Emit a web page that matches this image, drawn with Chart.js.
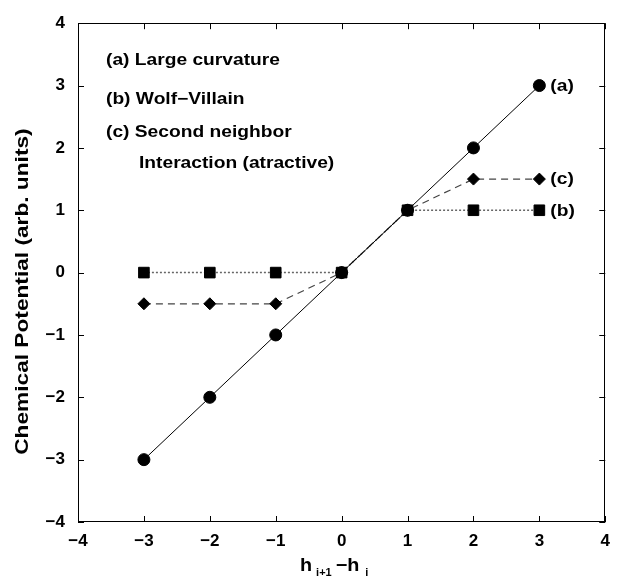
<!DOCTYPE html>
<html><head><meta charset="utf-8">
<script src="https://cdn.jsdelivr.net/npm/chart.js@4/dist/chart.umd.min.js"></script>
<style>html,body{margin:0;padding:0;background:#fff}</style>
</head><body>
<canvas id="c" width="619" height="578"></canvas>
<script>
// ---- data ----
const xValues = [-3, -2, -1, 0, 1, 2, 3];
const seriesA = [-3, -2, -1, 0, 1, 2, 3];          // (a) Large curvature
const seriesB = [0, 0, 0, 0, 1, 1, 1];             // (b) Wolf-Villain
const seriesC = [-0.5, -0.5, -0.5, 0, 1, 1.5, 1.5]; // (c) Second neighbor
const seriesTags = ['(a)', '(b)', '(c)'];
const noteLines = ['(a) Large curvature', '(b) Wolf\u2212Villain', '(c) Second neighbor', 'Interaction (atractive)'];
const axisMin = -4, axisMax = 4;
const yTitle = 'Chemical Potential (arb. units)';

const FONT = '"Liberation Sans", Arial, Helvetica, sans-serif';
const pts = arr => xValues.map((x, i) => ({x: x, y: arr[i]}));
const fmt = v => v < 0 ? '\u2212' + (-v) : String(v);

function sText(ctx, text, x, y, size, sx, align, baseline) {
  ctx.save();
  ctx.font = 'bold ' + size + 'px ' + FONT;
  ctx.textAlign = 'left';
  ctx.textBaseline = baseline || 'alphabetic';
  ctx.fillStyle = '#000';
  const w = ctx.measureText(text).width * sx;
  let x0 = x;
  if (align === 'center') x0 = x - w / 2; else if (align === 'right') x0 = x - w;
  ctx.translate(x0, y); ctx.scale(sx, 1); ctx.fillText(text, 0, 0);
  ctx.restore();
  return w;
}

const framePlugin = {
  id: 'frame',
  beforeDatasetsDraw(chart) {
    const {ctx, chartArea: a} = chart;
    ctx.save();
    ctx.strokeStyle = '#000'; ctx.lineWidth = 1;
    ctx.strokeRect(Math.round(a.left) + 0.5, Math.round(a.top) + 0.5,
                   Math.round(a.right - a.left) - 1, Math.round(a.bottom - a.top) - 1);
    const xs = chart.scales.x, ys = chart.scales.y, L = 6;
    ctx.beginPath();
    xs.ticks.forEach(t => {
      const p = Math.round(xs.getPixelForValue(t.value)) + 0.5;
      ctx.moveTo(p, a.bottom); ctx.lineTo(p, a.bottom - L);
      ctx.moveTo(p, a.top); ctx.lineTo(p, a.top + L);
    });
    ys.ticks.forEach(t => {
      const p = Math.round(ys.getPixelForValue(t.value)) + 0.5;
      ctx.moveTo(a.left, p); ctx.lineTo(a.left + L, p);
      ctx.moveTo(a.right, p); ctx.lineTo(a.right - L, p);
    });
    ctx.stroke();
    ctx.restore();
  },
  afterDraw(chart) {
    const {ctx, chartArea: a} = chart;
    const xs = chart.scales.x, ys = chart.scales.y;
    const S = 1.2;
    // series tags
    const lastX = xs.getPixelForValue(xValues[xValues.length - 1]) + 11;
    [seriesA, seriesB, seriesC].forEach((s, i) => {
      sText(ctx, seriesTags[i], lastX, ys.getPixelForValue(s[s.length - 1]) + 1, 16, S, 'left', 'middle');
    });
    // notes
    sText(ctx, noteLines[0], 106, 65, 16, S, 'left');
    sText(ctx, noteLines[1], 106, 104, 16, S, 'left');
    sText(ctx, noteLines[2], 106, 137, 16, S, 'left');
    sText(ctx, noteLines[3], 139, 168, 16, S, 'left');
    // y title
    ctx.save();
    ctx.translate(23, (a.top + a.bottom) / 2 + 19);
    ctx.rotate(-Math.PI / 2);
    sText(ctx, yTitle, 0, 0, 18, 1.26, 'center', 'middle');
    ctx.restore();
    // x title h_{i+1} - h_i
    let x = 300;
    x += sText(ctx, 'h', x, 571, 18, 1.1, 'left');
    x += 4;
    x += sText(ctx, 'i+1', x, 576, 11, 1.0, 'left');
    x += 4;
    x += sText(ctx, '\u2212h', x, 571, 18, 1.1, 'left');
    x += 6;
    sText(ctx, 'i', x, 576, 11, 1.0, 'left');
  }
};

const tickFont = {family: FONT, size: 17, weight: 'bold'};

new Chart(document.getElementById('c'), {
  type: 'scatter',
  data: {
    datasets: [
      {label: '(a)', data: pts(seriesA), showLine: true, borderColor: '#000', borderWidth: 1,
       pointStyle: 'circle', pointRadius: 6, pointBackgroundColor: '#000', pointBorderColor: '#000', pointBorderWidth: 1, order: 1},
      {label: '(c)', data: pts(seriesC), showLine: true, borderColor: '#444', borderWidth: 1.2, borderDash: [7, 5],
       pointStyle: 'rectRot', pointRadius: 6, pointBackgroundColor: '#000', pointBorderColor: '#000', pointBorderWidth: 1, order: 2},
      {label: '(b)', data: pts(seriesB), showLine: true, borderColor: '#666', borderWidth: 1.5, borderDash: [2, 2],
       pointStyle: 'rect', pointRadius: 7.5, pointBackgroundColor: '#000', pointBorderColor: '#000', pointBorderWidth: 1, order: 3}
    ]
  },
  options: {
    responsive: false, animation: false, devicePixelRatio: 1,
    layout: {padding: {left: 0, top: 11, right: 12, bottom: 0}},
    plugins: {legend: {display: false}, tooltip: {enabled: false}},
    scales: {
      x: {
        type: 'linear', min: axisMin, max: axisMax,
        ticks: {stepSize: 1, color: '#000', font: tickFont, padding: 9, callback: fmt, maxRotation: 0},
        grid: {display: false, drawTicks: false}, border: {display: false},
        afterFit: s => { s.height = 56; }
      },
      y: {
        type: 'linear', min: axisMin, max: axisMax,
        ticks: {stepSize: 1, color: '#000', font: tickFont, padding: 13, callback: fmt},
        grid: {display: false, drawTicks: false}, border: {display: false},
        afterFit: s => { s.width = 78; }
      }
    }
  },
  plugins: [framePlugin]
});
</script>
</body></html>
